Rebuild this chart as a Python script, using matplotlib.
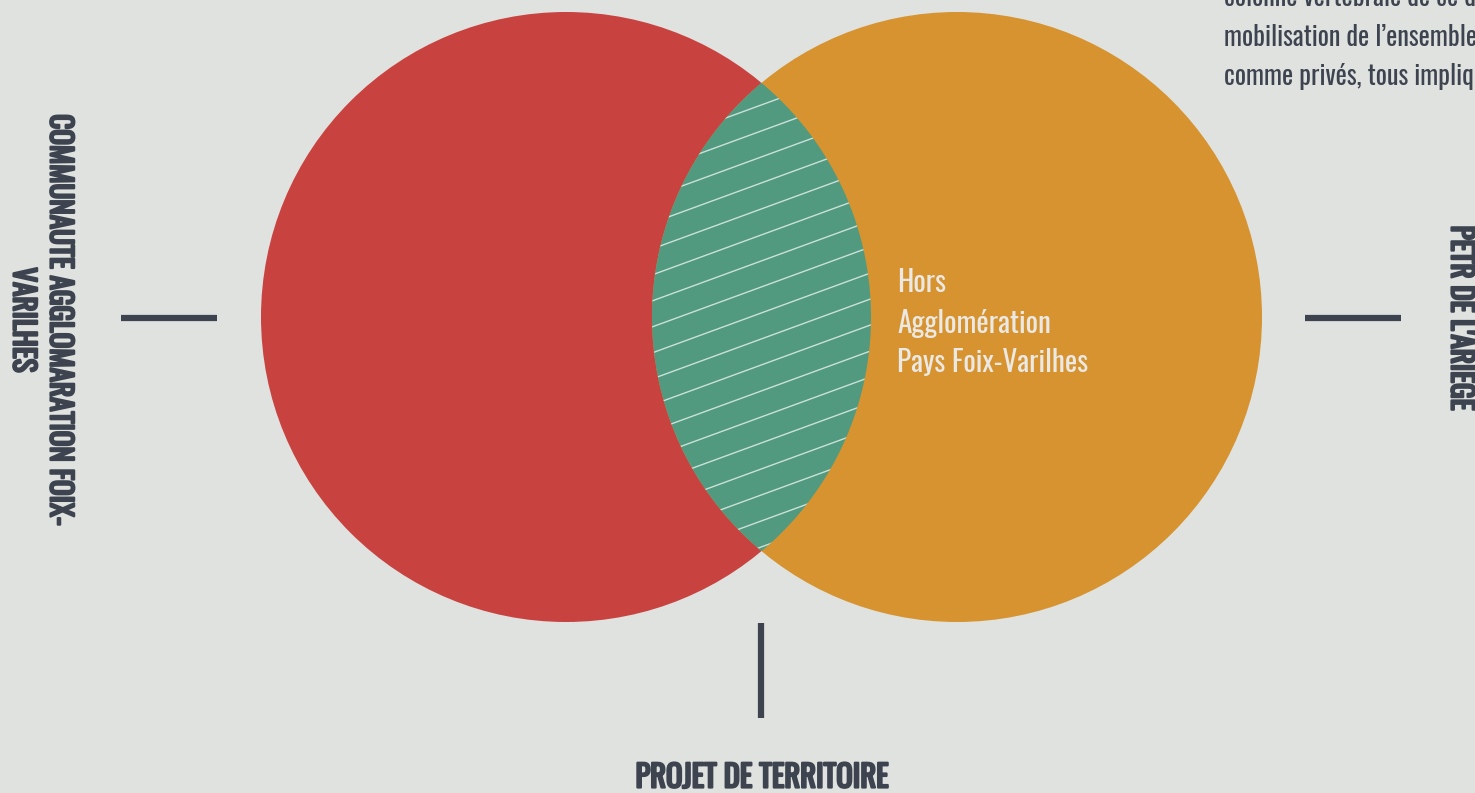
import numpy as np
import matplotlib
matplotlib.use("Agg")
import matplotlib.pyplot as plt
import matplotlib.patheffects as pe
from matplotlib.patches import Circle, PathPatch
from matplotlib.path import Path

# Données du diagramme
ensemble_gauche = ["COMMUNAUTE AGGLOMARATION FOIX-", "VARILHES"]
ensemble_droite = "PETR DE L'ARIEGE"
couleurs = ["#c84240", "#d69330"]
intersection_label = ["Hors", "Agglomération", "Pays Foix-Varilhes"]
bas_label = "PROJET DE TERRITOIRE"
texte_haut = ["colonne vertébrale de ce document", "mobilisation de l’ensemble des acteurs",
              "comme privés, tous impliqués"]

fond = "#e0e2df"
sombre = "#3d4450"
vert = "#519a80"
police = ["Oswald", "DejaVu Sans"]
gras = [pe.withStroke(linewidth=1.6, foreground=sombre)]

fig = plt.figure(figsize=(14.75, 7.93), dpi=100, facecolor=fond)
ax = fig.add_axes([0, 0, 1, 1])
ax.set_xlim(0, 1475)
ax.set_ylim(793, 0)
ax.set_aspect("equal")
ax.axis("off")
ax.set_facecolor(fond)

# cercles
r = 305
c1 = (566, 317)
c2 = (957, 317)
ax.add_patch(Circle(c1, r, color=couleurs[0], lw=0))
ax.add_patch(Circle(c2, r, color=couleurs[1], lw=0))

# lentille (intersection)
d = c2[0] - c1[0]
a = np.arccos(d / 2 / r)
t1 = np.linspace(-a, a, 200)
t2 = np.linspace(np.pi - a, np.pi + a, 200)
x1 = c1[0] + r * np.cos(t1)
y1 = c1[1] + r * np.sin(t1)
x2 = c2[0] + r * np.cos(t2)
y2 = c2[1] + r * np.sin(t2)
pts = np.vstack([np.column_stack([x1, y1]), np.column_stack([x2, y2])])
lens = PathPatch(Path(pts, closed=True), facecolor=vert, lw=0)
ax.add_patch(lens)

# hachures
xs = np.array([600, 920])
pente = -0.366
for b in np.arange(-200, 900, 26):
    ys = b + pente * (xs - 600)
    ln, = ax.plot(xs, ys, color="white", lw=1, alpha=0.7)
    ln.set_clip_path(lens)

for i, ligne in enumerate(intersection_label):
    ax.text(897, 283 + 40 * i, ligne, color="#ebe9e4", fontsize=21, family=police,
            va="center", ha="left")

# traits
ax.plot([121, 217], [318, 318], color=sombre, lw=4.5, solid_capstyle="butt")
ax.plot([1305, 1401], [318, 318], color=sombre, lw=4.5, solid_capstyle="butt")
ax.plot([761, 761], [623, 718], color=sombre, lw=4.5, solid_capstyle="butt")

# étiquettes
for xpos, ligne in zip([60, 23], ensemble_gauche):
    ax.text(xpos, 320, ligne, rotation=270, color=sombre, fontsize=21,
            family=police, ha="center", va="center", path_effects=gras)
ax.text(1461, 318, ensemble_droite, rotation=270, color=sombre, fontsize=21,
        family=police, ha="center", va="center", path_effects=gras)
ax.text(762, 778, bas_label, color=sombre, fontsize=22,
        family=police, ha="center", va="center", path_effects=gras)

for i, ligne in enumerate(texte_haut):
    ax.text(1224, -3 + 40 * i, ligne, color=sombre, fontsize=19, family=police,
            ha="left", va="center")

fig.savefig("out.png", dpi=100, facecolor=fond)
